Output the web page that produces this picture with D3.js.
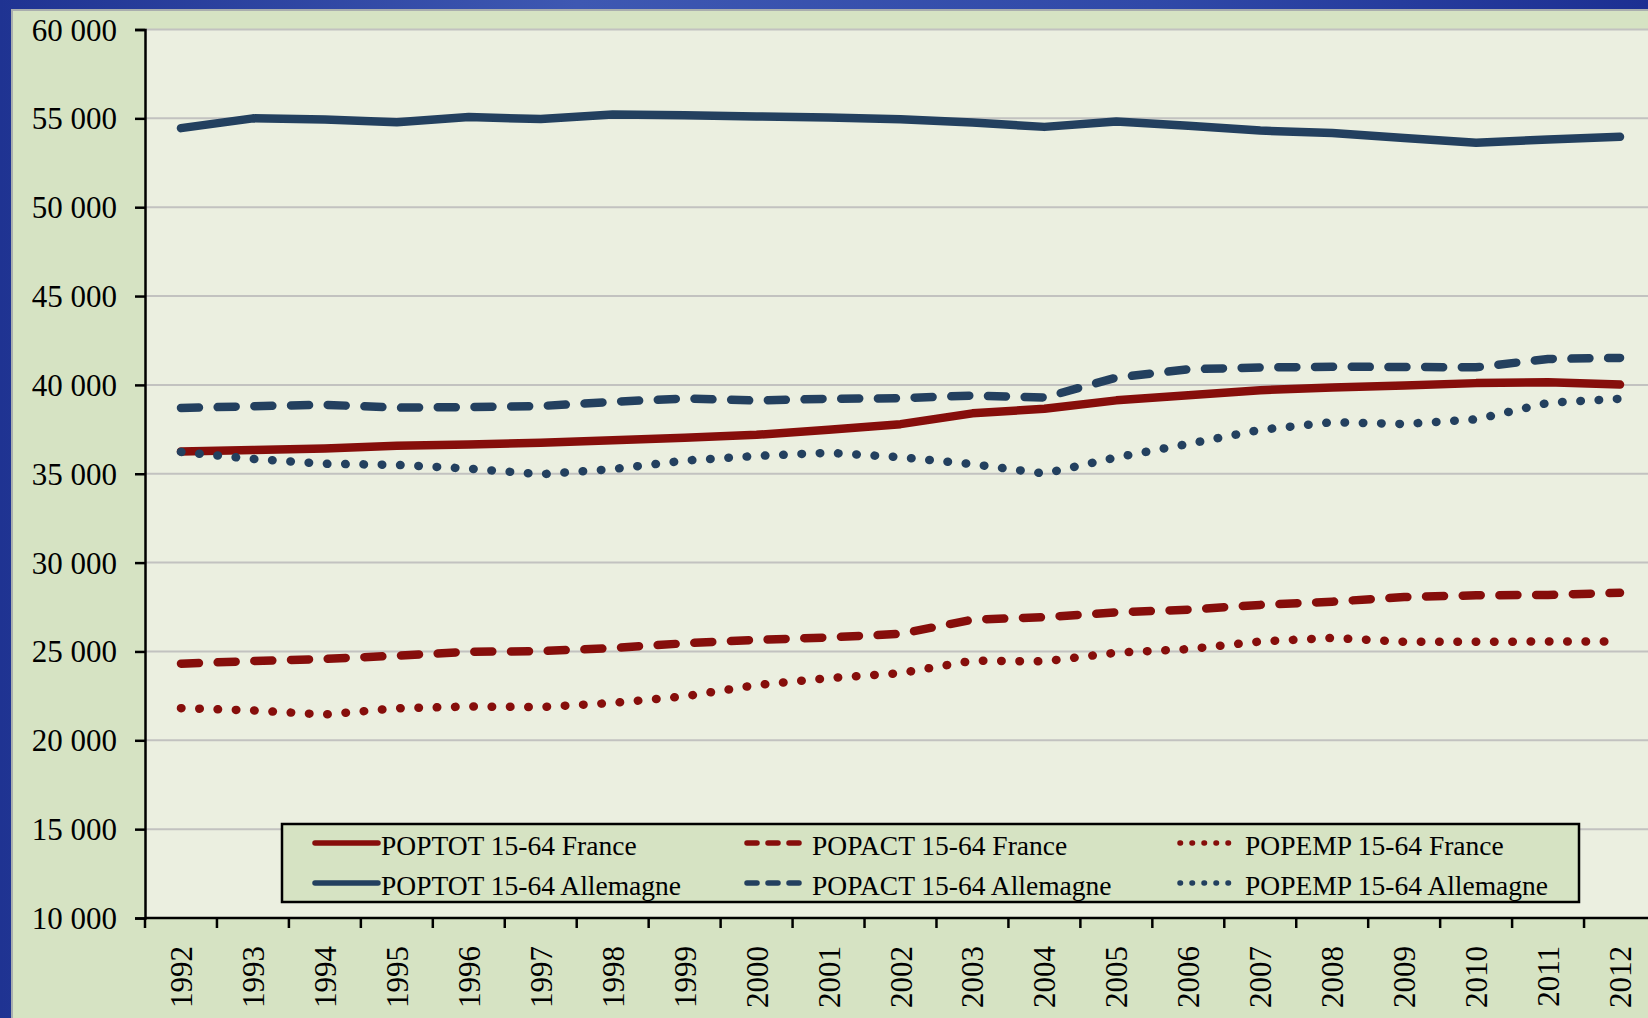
<!DOCTYPE html>
<html>
<head>
<meta charset="utf-8">
<script src="https://cdn.jsdelivr.net/npm/d3@7"></script>
<style>
  html, body { margin: 0; padding: 0; overflow: hidden; background: #d6e3c3; }
  svg { display: block; }
  text { font-family: "Liberation Serif", "Times New Roman", serif; fill: #000; }
</style>
</head>
<body>
<svg id="chart" width="1648" height="1018"></svg>
<script>
// Working-age population (thousands), France vs Germany, 1992-2012
const years = ["1992","1993","1994","1995","1996","1997","1998","1999","2000","2001",
               "2002","2003","2004","2005","2006","2007","2008","2009","2010","2011","2012"];

const poptotFrance    = [36250, 36340, 36420, 36570, 36650, 36740, 36880, 37020, 37190, 37480,
                         37790, 38400, 38660, 39130, 39420, 39700, 39850, 39960, 40100, 40150, 40020];
const popactFrance    = [24310, 24460, 24580, 24760, 24980, 25020, 25190, 25460, 25650, 25790,
                         25990, 26790, 26930, 27200, 27350, 27620, 27800, 28060, 28160, 28180, 28300];
const popempFrance    = [21810, 21680, 21450, 21800, 21900, 21870, 22100, 22470, 23110, 23500,
                         23780, 24480, 24440, 24930, 25130, 25560, 25760, 25540, 25540, 25560, 25560];
const poptotAllemagne = [54450, 55000, 54930, 54780, 55070, 54960, 55220, 55170, 55110, 55050,
                         54950, 54760, 54520, 54820, 54590, 54310, 54170, 53890, 53630, 53810, 53960];
const popactAllemagne = [38700, 38800, 38880, 38720, 38750, 38810, 39050, 39230, 39120, 39220,
                         39250, 39400, 39290, 40410, 40880, 40980, 41020, 41010, 40990, 41460, 41520];
const popempAllemagne = [36230, 35830, 35560, 35500, 35290, 34970, 35260, 35740, 36000, 36180,
                         35930, 35540, 35010, 35920, 36680, 37470, 37900, 37800, 38060, 38990, 39220];

const yTicks = [10000, 15000, 20000, 25000, 30000, 35000, 40000, 45000, 50000, 55000, 60000];

const seriesNames = ["POPTOT 15-64 France", "POPACT 15-64 France", "POPEMP 15-64 France",
                     "POPTOT 15-64 Allemagne", "POPACT 15-64 Allemagne", "POPEMP 15-64 Allemagne"];

const RED = "#860e0b", BLUE = "#23405f";
const series = [
  { name: seriesNames[0], values: poptotFrance,    color: RED,  style: "solid" },
  { name: seriesNames[1], values: popactFrance,    color: RED,  style: "dash" },
  { name: seriesNames[2], values: popempFrance,    color: RED,  style: "dot" },
  { name: seriesNames[3], values: poptotAllemagne, color: BLUE, style: "solid" },
  { name: seriesNames[4], values: popactAllemagne, color: BLUE, style: "dash" },
  { name: seriesNames[5], values: popempAllemagne, color: BLUE, style: "dot" }
];

const svg = d3.select("#chart");
const W = 1648, H = 1018;

// Window frame: blue band on top/left, grey rule, then green chart area
const defs = svg.append("defs");
const grad = defs.append("linearGradient").attr("id", "frame").attr("x1", "0%").attr("x2", "100%");
grad.append("stop").attr("offset", "0%").attr("stop-color", "#1f3392");
grad.append("stop").attr("offset", "35%").attr("stop-color", "#3e58b2");
grad.append("stop").attr("offset", "70%").attr("stop-color", "#3049a8");
grad.append("stop").attr("offset", "100%").attr("stop-color", "#1c2f92");
svg.append("rect").attr("x", 0).attr("y", 0).attr("width", W).attr("height", H).attr("fill", "url(#frame)");
svg.append("rect").attr("x", 11).attr("y", 9).attr("width", W).attr("height", H).attr("fill", "#a9aeae");
svg.append("rect").attr("x", 13).attr("y", 11).attr("width", W).attr("height", H).attr("fill", "#d6e3c3");

const plot = { left: 145, top: 29.5, right: 1656, bottom: 918 };

const x = d3.scaleBand().domain(years).range([plot.left, plot.right]).paddingInner(0).paddingOuter(0);
const y = d3.scaleLinear().domain([10000, 60000]).range([plot.bottom, plot.top]);

const fr = d3.formatLocale({ decimal: ",", thousands: "\u00a0", grouping: [3], currency: ["", " €"] });
const fmt = fr.format(",d");

// Plot background
svg.append("rect")
  .attr("x", plot.left).attr("y", plot.top)
  .attr("width", plot.right - plot.left).attr("height", plot.bottom - plot.top)
  .attr("fill", "#ebefe0");

// Horizontal gridlines
svg.append("g").selectAll("line").data(yTicks.filter(d => d > 10000)).join("line")
  .attr("x1", plot.left).attr("x2", plot.right)
  .attr("y1", d => y(d)).attr("y2", d => y(d))
  .attr("stroke", "#c2c2c0").attr("stroke-width", 2);

// Y axis
const yAxis = svg.append("g").attr("transform", `translate(${plot.left},0)`)
  .call(d3.axisLeft(y).tickValues(yTicks).tickFormat(fmt).tickSize(10).tickPadding(18));
yAxis.select(".domain").attr("stroke", "#000").attr("stroke-width", 2.5);
yAxis.selectAll(".tick line").attr("stroke", "#000").attr("stroke-width", 2.5);
yAxis.selectAll(".tick text")
  .style("font-family", '"Liberation Serif", "Times New Roman", serif')
  .style("font-size", "31px").attr("fill", "#000").attr("dy", "0.34em");

// X axis with ticks on category boundaries
const xAxisG = svg.append("g").attr("transform", `translate(0,${plot.bottom})`);
xAxisG.append("line").attr("x1", plot.left).attr("x2", plot.right)
  .attr("y1", 0).attr("y2", 0).attr("stroke", "#000").attr("stroke-width", 2.5);
xAxisG.selectAll("line.tk").data(years).join("line").attr("class", "tk")
  .attr("x1", d => x(d)).attr("x2", d => x(d))
  .attr("y1", 0).attr("y2", 10).attr("stroke", "#000").attr("stroke-width", 2.5);
xAxisG.selectAll("text").data(years).join("text")
  .attr("transform", d => `translate(${x(d) + x.bandwidth() / 2 + 11},28) rotate(-90)`)
  .attr("text-anchor", "end")
  .style("font-size", "31px")
  .text(d => d);

// Series lines
const line = d3.line()
  .x((d, i) => x(years[i]) + x.bandwidth() / 2)
  .y(d => y(d));

const dashFor = { solid: null, dash: "18,18.7", dot: "0.5,17.8" };

svg.append("g").selectAll("path").data(series).join("path")
  .attr("d", d => line(d.values))
  .attr("fill", "none")
  .attr("stroke", d => d.color)
  .attr("stroke-width", 8.5)
  .attr("stroke-linecap", "round")
  .attr("stroke-linejoin", "round")
  .attr("stroke-dasharray", d => dashFor[d.style]);

// Legend
const lg = svg.append("g");
lg.append("rect").attr("x", 282).attr("y", 824).attr("width", 1297).attr("height", 78)
  .attr("fill", "#d6e3c3").attr("stroke", "#000").attr("stroke-width", 2.5);

const colX = [315, 747, 1180];
const rowY = [843, 883];
const legendDash = { solid: null, dash: "10,11", dot: "0.5,11.5" };
const sampleLen = { solid: 63, dash: 63, dot: 52 };
const textX = [381, 812, 1245];

series.forEach((s, i) => {
  const col = i % 3, row = Math.floor(i / 3);
  const g = lg.append("g");
  g.append("line")
    .attr("x1", colX[col]).attr("x2", colX[col] + sampleLen[s.style])
    .attr("y1", rowY[row]).attr("y2", rowY[row])
    .attr("stroke", s.color).attr("stroke-width", 5.5)
    .attr("stroke-linecap", "round")
    .attr("stroke-dasharray", legendDash[s.style]);
  g.append("text")
    .attr("x", textX[col]).attr("y", rowY[row] + 12)
    .style("font-size", "27.5px")
    .text(s.name);
});
</script>
</body>
</html>
